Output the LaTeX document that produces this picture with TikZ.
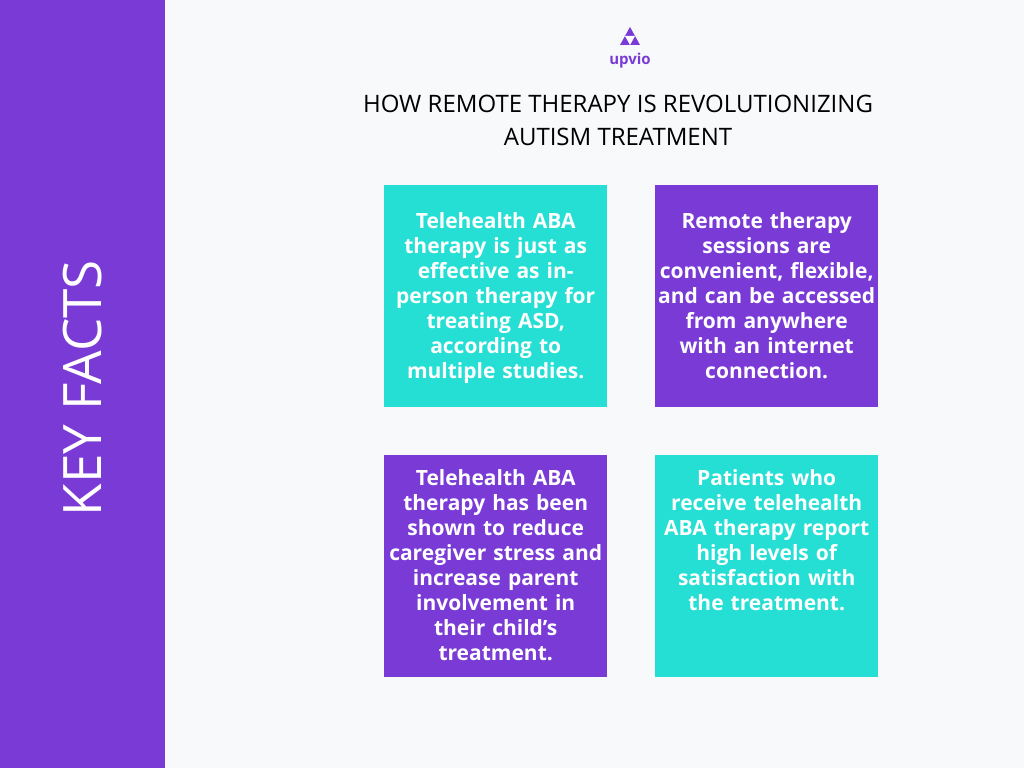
\documentclass[tikz,border=0pt]{standalone}
\usepackage{fontspec}
\setmainfont{Open Sans}[Ligatures=ResetAll]
\definecolor{pur}{HTML}{7A3AD6}
\definecolor{teal}{HTML}{26DFD4}
\definecolor{bg}{HTML}{F8F9FB}
\begin{document}
\begin{tikzpicture}[x=1pt,y=-1pt,
 card/.style={minimum width=223pt,minimum height=222pt,anchor=north west,inner sep=0pt},
 txt/.style={text=white,font=\fontsize{21}{25}\selectfont\bfseries,align=center,text width=222pt,anchor=north}]
\useasboundingbox (0,0) rectangle (1024,768);
\fill[bg] (0,0) rectangle (1024,768);
\fill[pur] (0,0) rectangle (165,768);
\node[rotate=90,text=white,font=\fontsize{53}{60}\selectfont] (kf) at (83,388) {KEY FACTS};
\fill[pur] (630,27) -- (640,45) -- (620,45) -- cycle;
\fill[white] (625,36) -- (635,36) -- (630,45) -- cycle;
\node[text=pur,font=\fontsize{15}{18}\selectfont\bfseries] (logo) at (630,61) {upvio};
\node[font=\fontsize{24}{33}\selectfont,align=center] (title) at (618,120) {HOW REMOTE THERAPY IS REVOLUTIONIZING\\AUTISM TREATMENT};
\node[card,fill=teal] (a) at (384,185) {};
\node[card,fill=pur] (b) at (655,185) {};
\node[card,fill=pur] (c) at (384,455) {};
\node[card,fill=teal] (d) at (655,455) {};
\node[txt] (at) at ([yshift=-24]a.north) {Telehealth ABA\\therapy is just as\\effective as in-\\person therapy for\\treating ASD,\\according to\\multiple studies.};
\node[txt] (bt) at ([yshift=-24]b.north) {Remote therapy\\sessions are\\convenient, flexible,\\and can be accessed\\from anywhere\\with an internet\\connection.};
\node[txt] (ct) at ([yshift=-11]c.north) {Telehealth ABA\\therapy has been\\shown to reduce\\caregiver stress and\\increase parent\\involvement in\\their child's\\treatment.};
\node[txt] (dt) at ([yshift=-11]d.north) {Patients who\\receive telehealth\\ABA therapy report\\high levels of\\satisfaction with\\the treatment.};
\end{tikzpicture}
\end{document}
